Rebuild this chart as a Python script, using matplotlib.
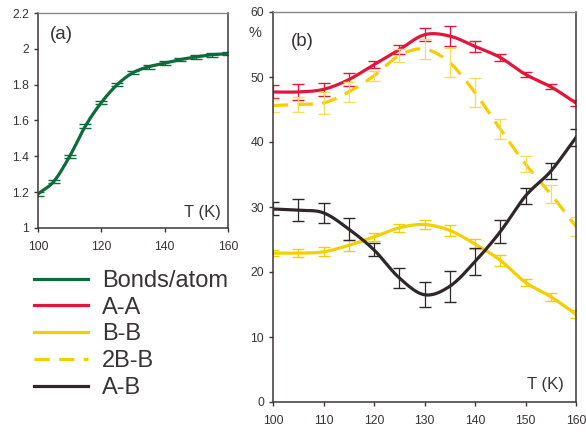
import numpy as np
import matplotlib
matplotlib.use("Agg")
import matplotlib.pyplot as plt
from matplotlib.lines import Line2D

plt.rcParams['font.family'] = ['Liberation Sans', 'DejaVu Sans']

# temperatures (K)
T = [100, 105, 110, 115, 120, 125, 130, 135, 140, 145, 150, 155, 160]

# panel (a): bonds per atom
bonds = [1.19, 1.26, 1.40, 1.57, 1.70, 1.80, 1.867, 1.90, 1.92, 1.94, 1.955, 1.967, 1.973]
bonds_err = [0.01] * 13

# panel (b): bond fractions in %
aa = [47.7, 47.7, 48.1, 49.6, 51.9, 54.2, 56.5, 56.3, 54.7, 53.0, 50.4, 48.5, 46.0]
aa_err = [1.0, 1.2, 1.0, 1.0, 0.5, 0.7, 1.0, 1.5, 0.8, 0.5, 0.4, 0.4, 0.5]
bb = [22.9, 22.9, 23.1, 24.1, 25.4, 26.8, 27.3, 26.4, 24.3, 21.8, 18.4, 16.2, 13.5]
bb_err = [0.5, 0.6, 0.7, 0.8, 0.6, 0.6, 0.7, 0.9, 0.8, 0.8, 0.5, 0.6, 0.6]
bb2 = [45.6, 45.8, 46.0, 47.7, 50.2, 53.3, 54.3, 52.2, 47.6, 42.0, 36.6, 32.0, 27.0]
bb2_err = [1.0, 1.2, 1.7, 1.6, 0.8, 1.0, 1.5, 2.2, 2.2, 1.6, 1.2, 1.4, 1.4]
ab = [29.7, 29.5, 29.1, 26.6, 23.4, 19.1, 16.5, 17.8, 21.6, 26.2, 31.7, 35.5, 40.7]
ab_err = [1.0, 1.7, 1.5, 1.7, 1.0, 1.5, 1.9, 2.4, 2.1, 1.8, 1.2, 1.2, 1.3]

GREEN = '#0d6b3c'
RED = '#e1163a'
YELLOW = '#f4cf00'
DARK = '#2f2729'
AXC = '#3d3538'


def smooth(x, y, n=20):
    # catmull-rom curve through the points (like a spreadsheet smoothed line)
    x = np.asarray(x, float)
    y = np.asarray(y, float)
    px = np.concatenate([[2 * x[0] - x[1]], x, [2 * x[-1] - x[-2]]])
    py = np.concatenate([[2 * y[0] - y[1]], y, [2 * y[-1] - y[-2]]])
    xs, ys = [], []
    t = np.linspace(0, 1, n, endpoint=False)
    for i in range(1, len(px) - 2):
        for p, out in ((px, xs), (py, ys)):
            p0, p1, p2, p3 = p[i - 1], p[i], p[i + 1], p[i + 2]
            out.extend(0.5 * (2 * p1 + (-p0 + p2) * t
                              + (2 * p0 - 5 * p1 + 4 * p2 - p3) * t ** 2
                              + (-p0 + 3 * p1 - 3 * p2 + p3) * t ** 3))
    xs.append(x[-1])
    ys.append(y[-1])
    return xs, ys


def style_axes(ax):
    for s in ('left', 'bottom', 'right'):
        ax.spines[s].set_color(AXC)
        ax.spines[s].set_linewidth(1.1)
    ax.spines['top'].set_color('#8a8486')
    ax.spines['top'].set_linewidth(1.0)
    ax.tick_params(axis='both', direction='out', length=3, width=1, color=AXC,
                   labelsize=8.8, labelcolor='#3a3336')
    ax.tick_params(axis='x', pad=6)
    ax.tick_params(right=False, top=False)


fig = plt.figure(figsize=(5.86, 4.32), dpi=100)

# panel (a)
ax1 = fig.add_axes([38 / 586, 1 - 228 / 432, 190 / 586, 215 / 432])
sx, sy = smooth(T, bonds)
ax1.plot(sx, sy, color=GREEN, lw=2.3, solid_capstyle='round')
ax1.errorbar(T, bonds, yerr=bonds_err, fmt='none', ecolor=GREEN, elinewidth=0.8, capsize=4)
ax1.set_xlim(100, 160)
ax1.set_ylim(1, 2.2)
ax1.set_xticks([100, 120, 140, 160])
ax1.set_yticks([1, 1.2, 1.4, 1.6, 1.8, 2, 2.2])
ax1.set_yticklabels(['1', '1.2', '1.4', '1.6', '1.8', '2', '2.2'])
style_axes(ax1)
ax1.text(0.06, 0.9, '(a)', transform=ax1.transAxes, fontsize=13.5, color='#3a3336', va='center')
ax1.text(0.96, 0.07, 'T (K)', transform=ax1.transAxes, fontsize=12, color='#3a3336',
         ha='right', va='center')

# panel (b)
ax2 = fig.add_axes([273 / 586, 1 - 402 / 432, 303 / 586, 390 / 432])
series = [
    (aa, aa_err, RED, '-', RED),
    (bb, bb_err, YELLOW, '-', YELLOW),
    (bb2, bb2_err, YELLOW, '--', '#f7dc5a'),
    (ab, ab_err, DARK, '-', DARK),
]
for vals, errs, col, ls, ecol in series:
    sx, sy = smooth(T, vals)
    if ls == '--':
        ax2.plot(sx, sy, color=col, lw=2.3, dashes=(4.8, 2.9))
    else:
        ax2.plot(sx, sy, color=col, lw=2.3)
    ax2.errorbar(T, vals, yerr=errs, fmt='none', ecolor=ecol, elinewidth=0.9, capsize=4)
ax2.set_xlim(100, 160)
ax2.set_ylim(0, 60)
ax2.set_xticks(range(100, 161, 10))
ax2.set_yticks(range(0, 61, 10))
style_axes(ax2)
ax2.text(0.06, 0.925, '(b)', transform=ax2.transAxes, fontsize=13.5, color='#3a3336', va='center')
ax2.text(0.96, 0.045, 'T (K)', transform=ax2.transAxes, fontsize=12, color='#3a3336',
         ha='right', va='center')
fig.text(255 / 586, 1 - 33 / 432, '%', fontsize=10.5, color='#3a3336', ha='center', va='center')

# legend
handles = [
    Line2D([], [], color=GREEN, lw=2.3),
    Line2D([], [], color=RED, lw=2.3),
    Line2D([], [], color=YELLOW, lw=2.3),
    Line2D([], [], color=YELLOW, lw=2.3, dashes=(4.8, 2.9)),
    Line2D([], [], color=DARK, lw=2.3),
]
labels = ['Bonds/atom', 'A-A', 'B-B', '2B-B', 'A-B']
leg = fig.legend(handles, labels, loc='upper left', bbox_to_anchor=(34 / 586, 1 - 270 / 432),
                 frameon=False, fontsize=17, handlelength=2.3, handletextpad=0.58,
                 labelspacing=0.2, borderaxespad=0, borderpad=0)
for t in leg.get_texts():
    t.set_color('#3a3336')

fig.savefig('out.png', dpi=100)
